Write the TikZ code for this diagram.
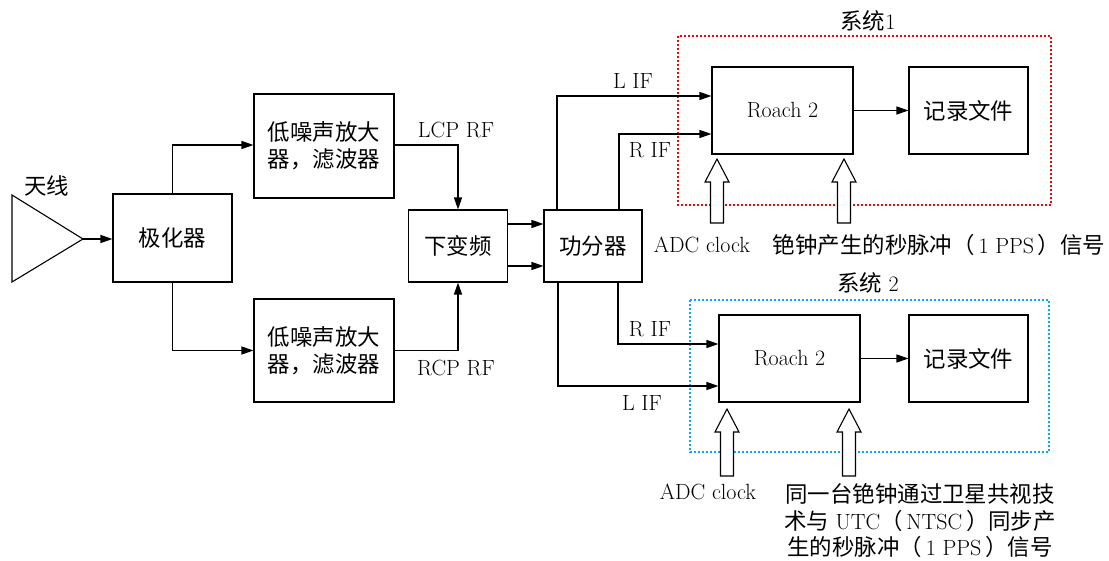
\documentclass[tikz,border=0pt]{standalone}
\usepackage{fontspec}
\newfontfamily\cjk[Scale=1.02]{Noto Sans CJK SC}
\usetikzlibrary{arrows.meta}
\newcommand{\zh}[1]{{\cjk #1}}
\tikzset{
  box/.style={draw, line width=1.1pt, rectangle, inner sep=0pt, font=\fontsize{22}{27}\selectfont, align=center},
  conn/.style={line width=1.3pt, -{Triangle[length=12pt,width=8pt]}},
  lbl/.style={font=\fontsize{22}{26.5}\selectfont, inner sep=0pt, align=center},
  hollow/.style={draw, line width=1.1pt, fill=white},
  sysone/.style={draw=red, line width=1.3pt, dash pattern=on 2pt off 2pt},
  systwo/.style={draw={rgb,255:red,0;green,176;blue,240}, line width=1.3pt, dash pattern=on 2pt off 2pt},
  hollowup/.pic={\path[hollow] (-6.5,0) -- (-6.5,-#1+23) -- (-12,-#1+23) -- (0,-#1) -- (12,-#1+23) -- (6.5,-#1+23) -- (6.5,0) -- cycle;}
}
\begin{document}
\begin{tikzpicture}[x=1pt,y=-1pt]
\useasboundingbox (0,0) rectangle (1109,561);
% system boxes
\draw[sysone] (678,36) rectangle (1051,205);
\draw[systwo] (690,300) rectangle (1049,452);
\node[lbl] (s1) at (868,21) {\zh{系统}1};
\node[lbl] (s2) at (868,283) {\zh{系统} 2};
% antenna
\draw[line width=1.1pt] (12,195) -- (83,239) -- (12,282) -- cycle;
\coordinate (ant) at (83,239);
\node[lbl] (antl) at (47,186) {\zh{天线}};
% blocks
\node[box, minimum width=119pt, minimum height=88pt] (pol) at (172.5,238) {\zh{极化器}};
\node[box, minimum width=140pt, minimum height=104pt] (lna1) at (324,146) {\zh{低噪声放大}\\\zh{器，滤波器}};
\node[box, minimum width=140pt, minimum height=103pt] (lna2) at (324,350.5) {\zh{低噪声放大}\\\zh{器，滤波器}};
\node[box, minimum width=99pt, minimum height=72pt] (dc) at (458,246) {\zh{下变频}};
\node[box, minimum width=98pt, minimum height=72pt] (ps) at (593,246) {\zh{功分器}};
\node[box, minimum width=141pt, minimum height=87pt] (r1) at (782.5,110.5) {Roach 2};
\node[box, minimum width=119pt, minimum height=87pt] (f1) at (968.5,110.5) {\zh{记录文件}};
\node[box, minimum width=141pt, minimum height=87pt] (r2) at (789.5,358.5) {Roach 2};
\node[box, minimum width=119pt, minimum height=87pt] (f2) at (968.5,358.5) {\zh{记录文件}};
% connectors
\draw[conn] (ant) -- (pol.west|-ant);
\draw[conn] (pol.north) |- ([yshift=1pt]lna1.west);
\draw[conn] (pol.south) |- (lna2.west);
\draw[conn] ([yshift=1pt]lna1.east) -| (dc.north);
\draw[conn] (lna2.east) -| (dc.south);
\draw[conn] ([yshift=-20pt]dc.east) -- ([yshift=-20pt]ps.west);
\draw[conn] ([yshift=22pt]dc.east) -- ([yshift=22pt]ps.west);
\coordinate (l1) at (557,96);
\coordinate (rr1) at (619,134);
\draw[conn] (ps.north west-|l1) |- (r1.west|-l1);
\draw[conn] (ps.north west-|rr1) |- (r1.west|-rr1);
\coordinate (rr2) at (618,344);
\coordinate (l2) at (558,386);
\draw[conn] (ps.south west-|rr2) |- (r2.west|-rr2);
\draw[conn] (ps.south west-|l2) |- (r2.west|-l2);
\draw[conn] (r1) -- (f1);
\draw[conn] (r2) -- (f2);
% connector labels
\node[lbl] (lcp) at (456,130) {LCP RF};
\node[lbl] (rcp) at (456,368) {RCP RF};
\node[lbl] (lif1) at (633,81) {L IF};
\node[lbl] (rif1) at (650,150) {R IF};
\node[lbl] (rif2) at (650,329) {R IF};
\node[lbl] (lif2) at (642,403) {L IF};
% hollow arrows
\pic at (717,223) {hollowup=64};
\pic at (844,223) {hollowup=64};
\pic at (727,476) {hollowup=67};
\pic at (849,476) {hollowup=67};
\node[lbl] (adc1) at (702,245) {ADC clock};
\node[lbl] (pps1) at (939,245) {\zh{铯钟产生的秒脉冲（}\,1 PPS\,\zh{）信号}};
\node[lbl] (adc2) at (708,492) {ADC clock};
\node[lbl] (pps2) at (920,521) {\zh{同一台铯钟通过卫星共视技}\\\zh{术与} UTC\zh{（}\,NTSC\,\zh{）同步产}\\\zh{生的秒脉冲（}\,1 PPS\,\zh{）信号}};
\end{tikzpicture}
\end{document}
